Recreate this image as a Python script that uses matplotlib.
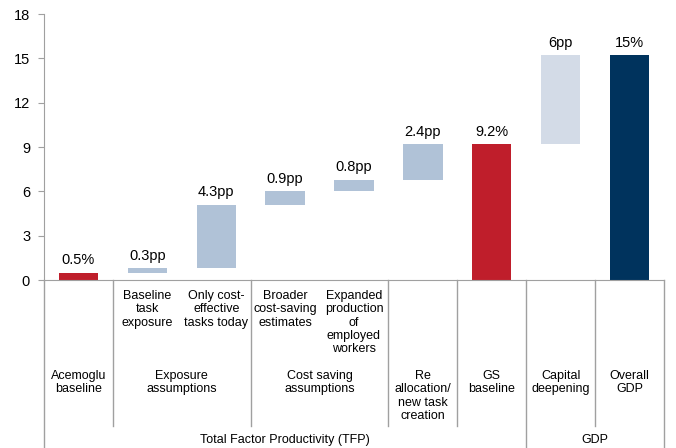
import matplotlib
matplotlib.use('Agg')
import matplotlib.pyplot as plt
import matplotlib.transforms as mtransforms

plt.rcParams['font.family'] = ['Liberation Sans', 'DejaVu Sans']

# bar steps: starting level and increment, labels as printed
bases = [0, 0.5, 0.8, 5.1, 6.0, 6.8, 0, 9.2, 0]
steps = [0.5, 0.3, 4.3, 0.9, 0.8, 2.4, 9.2, 6.0, 15.2]
value_labels = ['0.5%', '0.3pp', '4.3pp', '0.9pp', '0.8pp', '2.4pp', '9.2%', '6pp', '15%']
kinds = ['total', 'step', 'step', 'step', 'step', 'step', 'total', 'gdp', 'overall']

sub_labels = ['', 'Baseline\ntask\nexposure', 'Only cost-\neffective\ntasks today',
              'Broader\ncost-saving\nestimates', 'Expanded\nproduction\nof\nemployed\nworkers',
              '', '', '', '']
group_labels = [(0, 0, 'Acemoglu\nbaseline'), (1, 2, 'Exposure\nassumptions'),
                (3, 4, 'Cost saving\nassumptions'), (5, 5, 'Re\nallocation/\nnew task\ncreation'),
                (6, 6, 'GS\nbaseline'), (7, 7, 'Capital\ndeepening'), (8, 8, 'Overall\nGDP')]
top_groups = [(0, 6, 'Total Factor Productivity (TFP)'), (7, 8, 'GDP')]

colors = {'total': '#BF1E2B', 'step': '#B0C2D7', 'gdp': '#D3DBE7', 'overall': '#00335D'}
line_col = '#A0A0A0'

fig = plt.figure(figsize=(6.76, 4.48), dpi=100)
ax = fig.add_axes([0.0651, 0.375, 0.9171, 0.59375])

x = list(range(len(steps)))
ax.bar(x, steps, bottom=bases, width=0.57, color=[colors[k] for k in kinds])
for i in x:
    ax.annotate(value_labels[i], (i, bases[i] + steps[i]), xytext=(0, 6),
                textcoords='offset points', ha='center', va='baseline', fontsize=10.5)

ax.set_xlim(-0.5, len(steps) - 0.5)
ax.set_ylim(0, 18)
ax.set_yticks(range(0, 19, 3))
ax.tick_params(axis='y', labelsize=10.5, length=4, color=line_col, pad=6)
ax.set_xticks([])
for s in ['top', 'right']:
    ax.spines[s].set_visible(False)
for s in ['left', 'bottom']:
    ax.spines[s].set_color(line_col)

# category table under the axis
tr = mtransforms.blended_transform_factory(ax.transData, fig.transFigure)
y0 = 0.375
short_end = 1 - 426 / 448
long_dividers = [-0.5, 6.5, 8.5]
short_dividers = [0.5, 2.5, 4.5, 5.5, 7.5]
for d in long_dividers:
    ax.plot([d, d], [y0, 0], transform=tr, color=line_col, lw=1, clip_on=False)
for d in short_dividers:
    ax.plot([d, d], [y0, short_end], transform=tr, color=line_col, lw=1, clip_on=False)

for i, lab in enumerate(sub_labels):
    if lab:
        ax.text(i, 1 - 290 / 448, lab, transform=tr, ha='center', va='top',
                fontsize=9, linespacing=1.15)
for a, b, lab in group_labels:
    ax.text((a + b) / 2, 1 - 370 / 448, lab, transform=tr, ha='center', va='top',
            fontsize=9, linespacing=1.15)
for a, b, lab in top_groups:
    ax.text((a + b) / 2, 1 - 440 / 448, lab, transform=tr, ha='center', va='center',
            fontsize=9)

plt.savefig('out.png', dpi=100)
